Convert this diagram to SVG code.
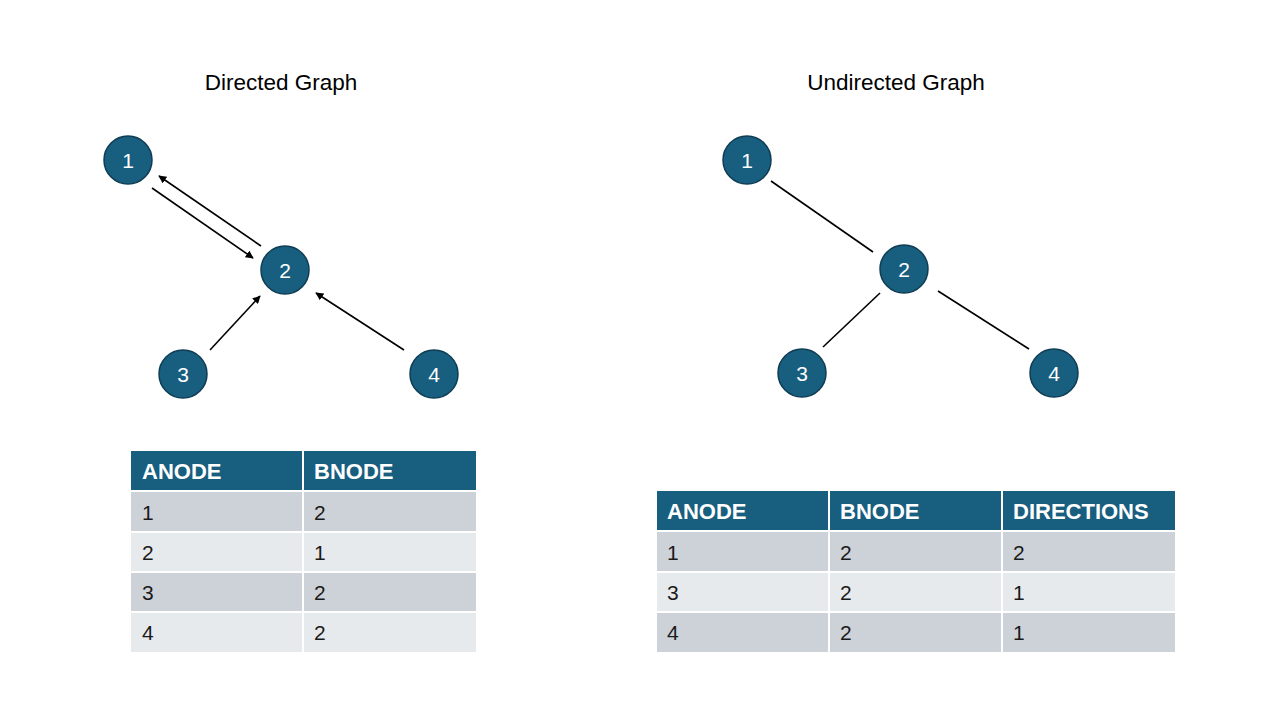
<svg xmlns="http://www.w3.org/2000/svg" width="1280" height="720" viewBox="0 0 1280 720">
<defs>
<marker id="arr" viewBox="0 0 10 10" refX="9" refY="5" markerWidth="5" markerHeight="5" orient="auto" markerUnits="strokeWidth">
<path d="M0,0 L10,5 L0,10 z" fill="#000"/>
</marker>
</defs>
<style>
text{font-family:"Liberation Sans",Arial,sans-serif;}
.title{font-size:22.5px;fill:#000;text-anchor:middle;}
.node circle{fill:#175E7F;stroke:#0F3D54;stroke-width:1.5;}
.node text{font-size:21px;fill:#fff;text-anchor:middle;}
.edge{stroke:#000;stroke-width:1.6;fill:none;}
.hdr{fill:#175E7F;}
.r1{fill:#CDD2D9;}
.r2{fill:#E7EAED;}
.grid{stroke:#fff;stroke-width:2;}
.th{font-size:22px;font-weight:bold;fill:#fff;}
.td{font-size:21px;fill:#1a1a1a;}
</style>
<rect width="1280" height="720" fill="#fff"/>
<text class="title" x="281" y="90">Directed Graph</text>
<text class="title" x="896" y="90">Undirected Graph</text>

<g id="connectors">
<line class="edge" x1="152" y1="188" x2="253" y2="258" marker-end="url(#arr)"/>
<line class="edge" x1="261" y1="246" x2="159" y2="176" marker-end="url(#arr)"/>
<line class="edge" x1="210" y1="350" x2="260" y2="296" marker-end="url(#arr)"/>
<line class="edge" x1="404" y1="350" x2="316" y2="293" marker-end="url(#arr)"/>
<line class="edge" x1="771" y1="181" x2="873" y2="252"/>
<line class="edge" x1="880" y1="293" x2="823" y2="347"/>
<line class="edge" x1="938" y1="291" x2="1029" y2="349"/>
</g>

<g id="d1" class="node"><circle cx="128" cy="160" r="24"/><text x="128" y="167.5">1</text></g>
<g id="d2" class="node"><circle cx="285" cy="270" r="24"/><text x="285" y="277.5">2</text></g>
<g id="d3" class="node"><circle cx="183" cy="374" r="24"/><text x="183" y="381.5">3</text></g>
<g id="d4" class="node"><circle cx="434" cy="374" r="24"/><text x="434" y="381.5">4</text></g>

<g id="u1" class="node"><circle cx="747" cy="160" r="24"/><text x="747" y="167.5">1</text></g>
<g id="u2" class="node"><circle cx="904" cy="269" r="24"/><text x="904" y="276.5">2</text></g>
<g id="u3" class="node"><circle cx="802" cy="373" r="24"/><text x="802" y="380.5">3</text></g>
<g id="u4" class="node"><circle cx="1054" cy="373" r="24"/><text x="1054" y="380.5">4</text></g>

<g id="table-directed">
<rect class="hdr" x="131" y="451" width="345" height="40"/>
<rect class="r1" x="131" y="492" width="345" height="40"/>
<rect class="r2" x="131" y="532" width="345" height="40"/>
<rect class="r1" x="131" y="572" width="345" height="40"/>
<rect class="r2" x="131" y="612" width="345" height="40"/>
<line class="grid" x1="131" y1="491" x2="476" y2="491" stroke-width="3"/>
<line class="grid" x1="131" y1="532" x2="476" y2="532"/>
<line class="grid" x1="131" y1="572" x2="476" y2="572"/>
<line class="grid" x1="131" y1="612" x2="476" y2="612"/>
<line class="grid" x1="303" y1="451" x2="303" y2="652"/>
<text class="th" x="142" y="479">ANODE</text>
<text class="th" x="314" y="479">BNODE</text>
<text class="td" x="142" y="520">1</text><text class="td" x="314" y="520">2</text>
<text class="td" x="142" y="560">2</text><text class="td" x="314" y="560">1</text>
<text class="td" x="142" y="600">3</text><text class="td" x="314" y="600">2</text>
<text class="td" x="142" y="640">4</text><text class="td" x="314" y="640">2</text>
</g>

<g id="table-undirected">
<rect class="hdr" x="657" y="491" width="518" height="40"/>
<rect class="r1" x="657" y="532" width="518" height="40"/>
<rect class="r2" x="657" y="572" width="518" height="40"/>
<rect class="r1" x="657" y="612" width="518" height="40"/>
<line class="grid" x1="657" y1="531" x2="1175" y2="531" stroke-width="3"/>
<line class="grid" x1="657" y1="572" x2="1175" y2="572"/>
<line class="grid" x1="657" y1="612" x2="1175" y2="612"/>
<line class="grid" x1="829" y1="491" x2="829" y2="652"/>
<line class="grid" x1="1002" y1="491" x2="1002" y2="652"/>
<text class="th" x="667" y="519">ANODE</text>
<text class="th" x="840" y="519">BNODE</text>
<text class="th" x="1013" y="519">DIRECTIONS</text>
<text class="td" x="667" y="560">1</text><text class="td" x="840" y="560">2</text><text class="td" x="1013" y="560">2</text>
<text class="td" x="667" y="600">3</text><text class="td" x="840" y="600">2</text><text class="td" x="1013" y="600">1</text>
<text class="td" x="667" y="640">4</text><text class="td" x="840" y="640">2</text><text class="td" x="1013" y="640">1</text>
</g>
</svg>
